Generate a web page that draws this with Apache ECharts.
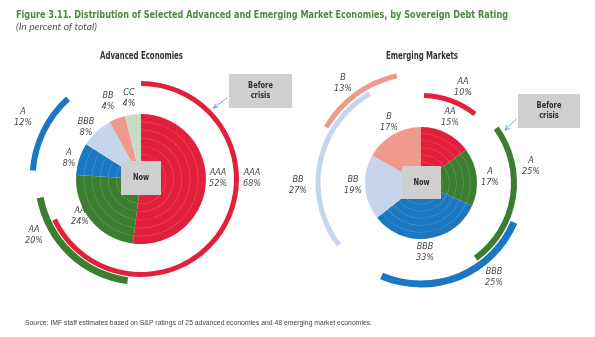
<!DOCTYPE html>
<html>
<head>
<meta charset="utf-8">
<script src="https://cdn.jsdelivr.net/npm/echarts@6/dist/echarts.min.js"></script>
<style>
  html, body { margin: 0; padding: 0; background: #fff; }
  #chart { width: 595px; height: 337px; }
</style>
</head>
<body>
<div id="chart"></div>
<script>
// Sovereign debt rating distributions (percent of total)
const advNowNames = ['AAA', 'AA', 'A', 'BBB', 'BB', 'CC'];
const advNowValues = [52, 24, 8, 8, 4, 4];
const advBeforeNames = ['AAA', 'AA', 'A'];
const advBeforeValues = [68, 20, 12];

const emNowNames = ['AA', 'A', 'BBB', 'BB', 'B'];
const emNowValues = [15, 17, 33, 19, 17];
const emBeforeNames = ['AA', 'A', 'BBB', 'BB', 'B'];
const emBeforeValues = [10, 25, 25, 27, 13];

// colour per rating in each panel
const advColors = { AAA: '#e3203c', AA: '#3b7e2f', A: '#1b77bf', BBB: '#c6d5ec', BB: '#f09a8d', CC: '#c7ddc3' };
const emColors = { AA: '#e3203c', A: '#3b7e2f', BBB: '#1b77bf', BB: '#c6d5ec', B: '#f09a8d' };

// ratings whose wedges carry the faint concentric rings
const advRinged = ['AAA', 'AA', 'A'];
const emRinged = ['AA', 'A', 'BBB'];

// layout of the "before crisis" arcs: clockwise start angle from 12 o'clock, inner/outer radius
const advArcLayout = [
  { start: 0, r: [93, 98] },
  { start: 187.5, r: [99, 106] },
  { start: 274.5, r: [105.5, 111.5] }
];
const emArcLayout = [
  { start: 2, r: [85, 90] },
  { start: 54, r: [90, 96] },
  { start: 113, r: [97.5, 104.5] },
  { start: 233, r: [100.5, 105.5] },
  { start: 300.5, r: [107.5, 112.5] }
];

// label anchor points
const advNowLabelPos = [[218, 178], [80, 216], [69, 158], [86, 127], [108, 101], [129, 98]];
const advBeforeLabelPos = [[252, 178], [34, 235], [23, 117]];
const emNowLabelPos = [[450, 117], [490, 177], [425, 252], [353, 185], [389, 122]];
const emBeforeLabelPos = [[463, 87], [531, 166], [494, 277], [298, 185], [343, 83]];

const advCenter = [141, 179], advRadius = 65;
const emCenter = [421, 183], emRadius = 56;

const TRANSPARENT = 'rgba(0,0,0,0)';
const series = [];
const graphic = [];

const measureCtx = document.createElement('canvas').getContext('2d');
function textWidth(text, font) {
  measureCtx.font = font;
  return measureCtx.measureText(text).width;
}

function nowPie(center, radius, names, values, colors) {
  series.push({
    type: 'pie', center, radius: [0, radius], startAngle: 90, clockwise: true,
    silent: true, animation: false, label: { show: false }, labelLine: { show: false },
    itemStyle: { borderWidth: 0 },
    data: names.map((n, i) => ({ name: n, value: values[i], itemStyle: { color: colors[n] } }))
  });
}

function ringOverlays(center, radius, names, values, ringed) {
  const count = 7;
  for (let k = 1; k <= count; k++) {
    const rr = radius * k / (count + 1);
    series.push({
      type: 'pie', center, radius: [rr, rr + 0.6], startAngle: 90, clockwise: true,
      silent: true, animation: false, label: { show: false }, labelLine: { show: false },
      itemStyle: { borderWidth: 0 },
      data: names.map((n, i) => ({
        name: n, value: values[i],
        itemStyle: { color: ringed.includes(n) ? 'rgba(255,255,255,0.22)' : TRANSPARENT }
      }))
    });
  }
}

function beforeArcs(center, names, values, colors, layout) {
  names.forEach((n, i) => {
    series.push({
      type: 'pie', center, radius: layout[i].r, startAngle: 90 - layout[i].start, clockwise: true,
      silent: true, animation: false, label: { show: false }, labelLine: { show: false },
      itemStyle: { borderWidth: 0 },
      data: [
        { name: n, value: values[i], itemStyle: { color: colors[n] } },
        { name: '', value: 100 - values[i], itemStyle: { color: TRANSPARENT } }
      ]
    });
  });
}

// text squeezed horizontally to a given width, imitating a condensed face
function fittedText(text, font, x, y, width, align, fill) {
  const w = textWidth(text, font);
  graphic.push({
    type: 'text', x, y, scaleX: width / w, silent: true, z: 100,
    style: { text, font, fill, align, verticalAlign: 'middle' }
  });
}

const labelFont = 'italic 9px "Liberation Sans Narrow", "DejaVu Sans Condensed", sans-serif';
function labels(names, values, pos) {
  names.forEach((n, i) => {
    graphic.push({
      type: 'text', x: pos[i][0], y: pos[i][1], silent: true, z: 100,
      style: { text: n + '\n' + values[i] + '%', align: 'center', verticalAlign: 'middle',
               font: labelFont, fill: '#474747', lineHeight: 10.5 }
    });
  });
}

function box(x, y, w, h, text) {
  graphic.push({ type: 'rect', z: 100, shape: { x, y, width: w, height: h }, style: { fill: '#cfcfcf' }, silent: true });
  graphic.push({
    type: 'text', x: x + w / 2, y: y + h / 2, silent: true, z: 101, scaleX: 0.78,
    style: { text, align: 'center', verticalAlign: 'middle', lineHeight: 10,
             font: 'bold 8.5px "DejaVu Sans", sans-serif', fill: '#2e2e2e' }
  });
}

function arrow(x1, y1, x2, y2) {
  const col = '#4a90cf';
  graphic.push({ type: 'line', z: 100, shape: { x1, y1, x2, y2 }, style: { stroke: col, lineWidth: 0.8 }, silent: true });
  const a = Math.atan2(y2 - y1, x2 - x1), L = 5, s = 0.45;
  graphic.push({
    type: 'polyline', silent: true, z: 100,
    shape: { points: [
      [x2 - L * Math.cos(a - s), y2 - L * Math.sin(a - s)], [x2, y2],
      [x2 - L * Math.cos(a + s), y2 - L * Math.sin(a + s)]
    ] },
    style: { stroke: col, lineWidth: 0.8, fill: null }
  });
}

// Advanced economies
beforeArcs(advCenter, advBeforeNames, advBeforeValues, advColors, advArcLayout);
nowPie(advCenter, advRadius, advNowNames, advNowValues, advColors);
ringOverlays(advCenter, advRadius, advNowNames, advNowValues, advRinged);

// Emerging markets
beforeArcs(emCenter, emBeforeNames, emBeforeValues, emColors, emArcLayout);
nowPie(emCenter, emRadius, emNowNames, emNowValues, emColors);
ringOverlays(emCenter, emRadius, emNowNames, emNowValues, emRinged);

// headings
fittedText('Figure 3.11. Distribution of Selected Advanced and Emerging Market Economies, by Sovereign Debt Rating',
           'bold 11px "DejaVu Sans", sans-serif', 16, 15, 492, 'left', '#4a8a3c');
fittedText('(In percent of total)', 'italic 9px Lato, sans-serif', 16, 27, 81, 'left', '#555');
fittedText('Advanced Economies', 'bold 10px "DejaVu Sans", sans-serif', 141.5, 56, 83, 'center', '#333');
fittedText('Emerging Markets', 'bold 10px "DejaVu Sans", sans-serif', 422, 56, 72, 'center', '#333');
fittedText('Source: IMF staff estimates based on S&P ratings of 25 advanced economies and 48 emerging market economies.',
           '7.5px "Liberation Sans", sans-serif', 25, 323, 347, 'left', '#444');

labels(advNowNames, advNowValues, advNowLabelPos);
labels(advBeforeNames, advBeforeValues, advBeforeLabelPos);
labels(emNowNames, emNowValues, emNowLabelPos);
labels(emBeforeNames, emBeforeValues, emBeforeLabelPos);

box(121, 161, 40, 34, 'Now');
box(402, 166, 39, 33, 'Now');
box(229, 74, 63, 34, 'Before\ncrisis');
box(518, 94, 62, 34, 'Before\ncrisis');
arrow(227, 98, 213.5, 108);
arrow(516.5, 119, 505, 130);

const chart = echarts.init(document.getElementById('chart'), null, { renderer: 'canvas' });
chart.setOption({ animation: false, backgroundColor: '#fff', series, graphic });
</script>
</body>
</html>
